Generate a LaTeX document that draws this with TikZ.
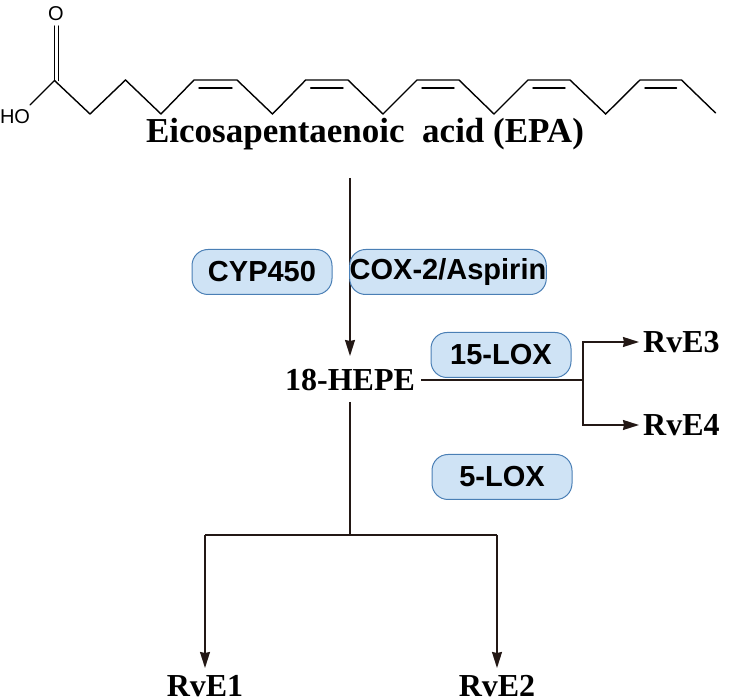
\documentclass[tikz,border=0pt]{standalone}
\usepackage{fontspec}
\setmainfont{Liberation Serif}
\setsansfont{Liberation Sans}
\usetikzlibrary{arrows.meta}
\definecolor{ink}{HTML}{231815}
\definecolor{pillfill}{HTML}{CFE3F5}
\definecolor{pilledge}{HTML}{4A7FB5}
\tikzset{
  bond/.style={line width=1.4pt, black, line cap=round, line join=miter},
  flow/.style={line width=1.4pt, ink},
  arr/.style={flow, -{Stealth[length=16pt,width=10pt,inset=1pt]}},
  pill/.style={draw=pilledge, fill=pillfill, line width=1pt, rounded corners=16pt,
    minimum width=140pt, minimum height=45pt, inner sep=0pt, font=\sffamily\bfseries\fontsize{29}{32}\selectfont, text=black},
  lbl/.style={font=\bfseries\fontsize{32}{36}\selectfont, text=black, inner sep=0pt}
}
\begin{document}
\begin{tikzpicture}[x=1pt,y=-1pt]
\useasboundingbox (0,0) rectangle (732,700);
% molecule
\draw[bond] (30,105) -- (54.5,80.5) -- (90,114) -- (125.5,80) -- (161,114) -- (194,80) -- (237,80) -- (272.5,114) -- (305.7,80) -- (348,80) -- (383,114) -- (417,80) -- (459,80) -- (494,114) -- (528,80) -- (570,80) -- (605.7,114) -- (640,80) -- (681.5,80) -- (715.6,113);
\draw[bond] (54.5,80.5) -- (54.5,26);
\draw[bond] (58.5,80.5) -- (58.5,26);
\foreach \a/\b in {194/237,305.7/348,417/459,528/570,640/681.5}
  \draw[bond] (\a+5,88) -- (\b-5,88);
\node[font=\sffamily\fontsize{20}{22}\selectfont, inner sep=0pt] (O) at (56,14) {O};
\node[font=\sffamily\fontsize{20}{22}\selectfont, inner sep=0pt] (HO) at (15,117) {HO};
\node[lbl, font=\bfseries\fontsize{35}{38}\selectfont, anchor=base] (epa) at (365,143) {Eicosapentaenoic \ acid (EPA)};
% pathway
\coordinate (top) at (350,178);
\node[lbl] (hepe) at (350,380) {18-HEPE};
\draw[arr] (top) -- (350,356);
\node[pill] (cyp) at (262,272) {CYP450};
\node[pill, minimum width=153pt] (cox) at (448,272) {COX-2/Aspirin};
\node[pill] (lox15) at (501,355) {15-LOX};
\node[pill] (lox5) at (502,477) {5-LOX};
\coordinate (br) at (583,380);
\draw[flow] (hepe.east) ++(6,0) -- (br);
\node[lbl, anchor=west] (rve3) at (643,342) {RvE3};
\node[lbl, anchor=west] (rve4) at (643,425) {RvE4};
\draw[arr] (br) |- ([xshift=-4pt]rve3.west);
\draw[arr] (br) |- ([xshift=-4pt]rve4.west);
\coordinate (hb) at (350,402);
\coordinate (sp) at (350,535);
\draw[flow] (hb) -- (sp);
\node[lbl, anchor=base] (rve1) at (205,697) {RvE1};
\node[lbl, anchor=base] (rve2) at (497,697) {RvE2};
\draw[flow] (205,535) -- (497,535);
\draw[arr] (205,535) -- (205,668);
\draw[arr] (497,535) -- (497,668);
\end{tikzpicture}
\end{document}
